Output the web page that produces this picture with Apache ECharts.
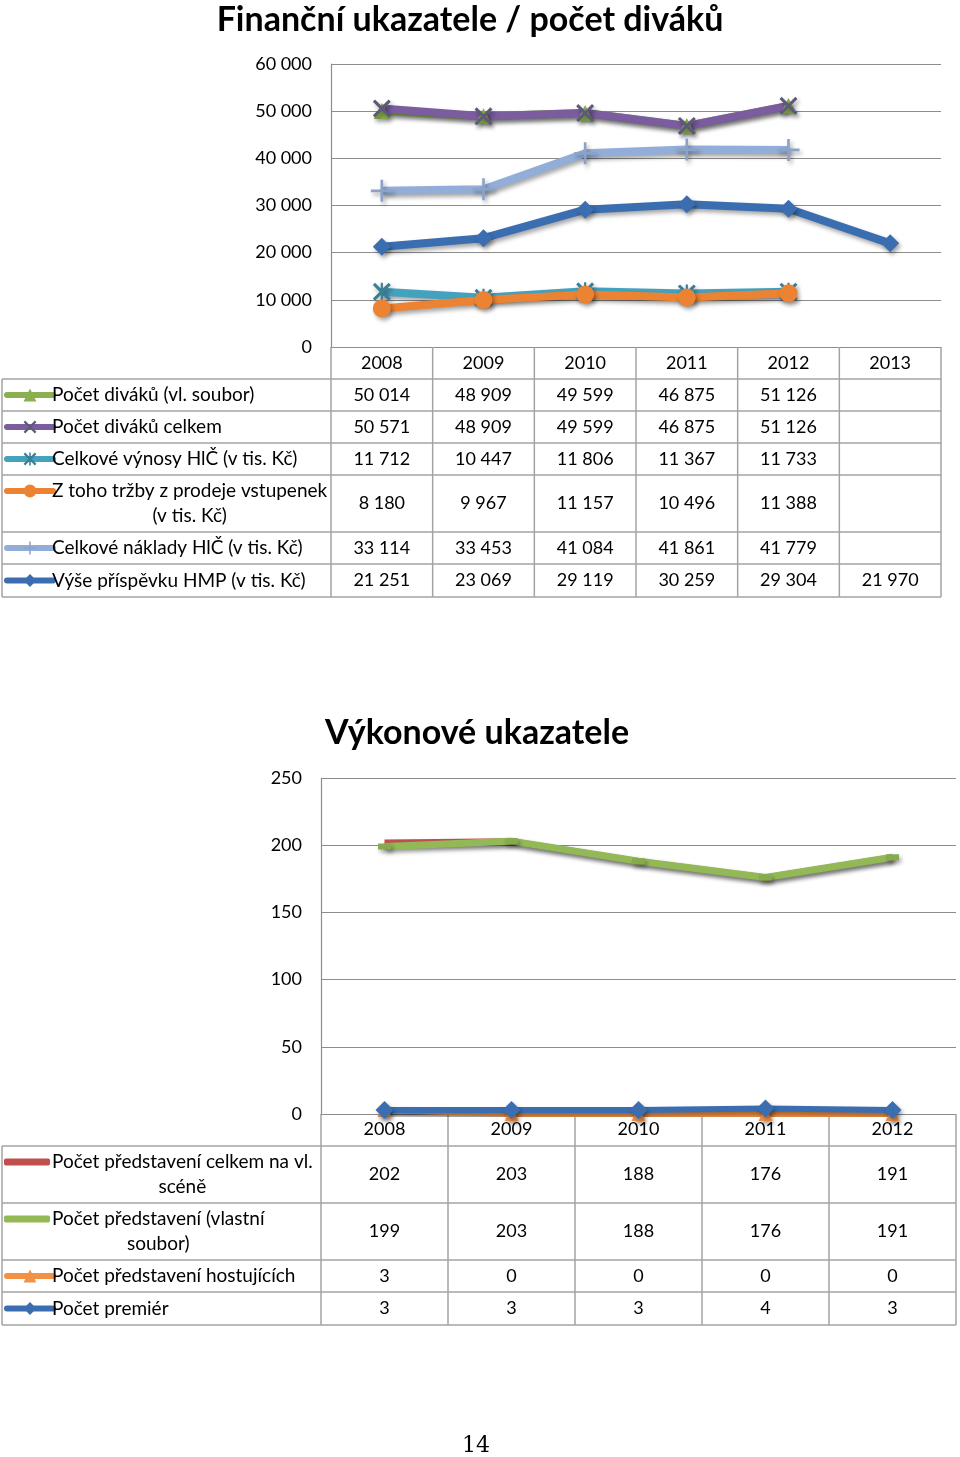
<!DOCTYPE html>
<html><head><meta charset="utf-8">
<script src="https://cdn.jsdelivr.net/npm/echarts@6/dist/echarts.min.js"></script>
<style>html,body{margin:0;padding:0;background:#fff}#c{width:960px;height:1457px}</style>
</head><body><div id="c"></div>
<script>
// ---------- DATA ----------
const years1 = ['2008','2009','2010','2011','2012','2013'];
const divakuVlSoubor = [50014, 48909, 49599, 46875, 51126, null];
const divakuCelkem   = [50571, 48909, 49599, 46875, 51126, null];
const vynosyHLC      = [11712, 10447, 11806, 11367, 11733, null];
const trzbyVstupenky = [8180, 9967, 11157, 10496, 11388, null];
const nakladyHLC     = [33114, 33453, 41084, 41861, 41779, null];
const prispevekHMP   = [21251, 23069, 29119, 30259, 29304, 21970];
const yTicks1 = [0, 10000, 20000, 30000, 40000, 50000, 60000];

const years2 = ['2008','2009','2010','2011','2012'];
const predstaveniCelkem = [202, 203, 188, 176, 191];
const predstaveniVlastni = [199, 203, 188, 176, 191];
const predstaveniHost = [3, 0, 0, 0, 0];
const premiery = [3, 3, 3, 4, 3];
const yTicks2 = [0, 50, 100, 150, 200, 250];

// ---------- LAYOUT / STYLE ----------
const FONT = 'Lato';
const LABEL_FONT = '19px ' + FONT;
const G1 = {left: 331, top: 64, width: 610, height: 283};
const G2 = {left: 321, top: 778, width: 635, height: 336};
const BORDER = '#a3a3a3';

const fmt = v => v == null ? '' : String(v).replace(/\B(?=(\d{3})+(?!\d))/g, ' ');
const mctx = document.createElement('canvas').getContext('2d');
mctx.font = LABEL_FONT;
const textW = t => mctx.measureText(t).width;

const P_X = 'path://M0,1.2 L1.2,0 L5,3.8 L8.8,0 L10,1.2 L6.2,5 L10,8.8 L8.8,10 L5,6.2 L1.2,10 L0,8.8 L3.8,5 Z';
const P_STAR = 'path://M0,1.2 L1.2,0 L5,3.8 L8.8,0 L10,1.2 L6.2,5 L10,8.8 L8.8,10 L5,6.2 L1.2,10 L0,8.8 L3.8,5 Z M4.4,0 L5.6,0 L5.6,10 L4.4,10 Z';
const P_PLUS = 'path://M4.4,0 L5.6,0 L5.6,4.4 L10,4.4 L10,5.6 L5.6,5.6 L5.6,10 L4.4,10 L4.4,5.6 L0,5.6 L0,4.4 L4.4,4.4 Z';

const shadow = {shadowColor: 'rgba(0,0,0,0.35)', shadowBlur: 4, shadowOffsetX: 2, shadowOffsetY: 3};

const table1 = [
  {name: 'Počet diváků (vl. soubor)', lines: ['Počet diváků (vl. soubor)'], values: divakuVlSoubor, color: '#8AB04F', symbol: 'triangle', size: 16, h: 32},
  {name: 'Počet diváků celkem', lines: ['Počet diváků celkem'], values: divakuCelkem, color: '#7A5C9F', symbol: P_X, size: 18, h: 32, symColor: '#5d5a78'},
  {name: 'Celkové výnosy HlČ (v tis. Kč)', lines: ['Celkové výnosy HlČ (v tis. Kč)'], values: vynosyHLC, color: '#44A2BE', symbol: P_STAR, size: 18, h: 32, symColor: '#3b7f95'},
  {name: 'Z toho tržby z prodeje vstupenek (v tis. Kč)', lines: ['Z toho tržby z prodeje vstupenek', '(v tis. Kč)'], values: trzbyVstupenky, color: '#EC8332', symbol: 'circle', size: 18, h: 57},
  {name: 'Celkové náklady HlČ (v tis. Kč)', lines: ['Celkové náklady HlČ (v tis. Kč)'], values: nakladyHLC, color: '#92AED8', symbol: P_PLUS, size: 22, h: 32, symColor: '#8da2c8'},
  {name: 'Výše příspěvku HMP (v tis. Kč)', lines: ['Výše příspěvku HMP (v tis. Kč)'], values: prispevekHMP, color: '#3B6EB0', symbol: 'diamond', size: 18, h: 33}
];
const table2 = [
  {name: 'Počet představení celkem na vl. scéně', lines: ['Počet představení celkem na vl.', 'scéně'], values: predstaveniCelkem, color: '#C0504D', symbol: 'none', size: 0, h: 57, lw: 6},
  {name: 'Počet představení (vlastní soubor)', lines: ['Počet představení (vlastní', 'soubor)'], values: predstaveniVlastni, color: '#93B957', symbol: 'rect', size: [13, 6], h: 57, lw: 7, symColor: '#86aa4c'},
  {name: 'Počet představení hostujících', lines: ['Počet představení hostujících'], values: predstaveniHost, color: '#F39145', symbol: 'triangle', size: 14, h: 32, lw: 6},
  {name: 'Počet premiér', lines: ['Počet premiér'], values: premiery, color: '#3B6EB0', symbol: 'diamond', size: 18, h: 33, lw: 6}
];

function mkSeries(rows, idx, lwDef) {
  return rows.map(r => ({
    type: 'line', name: r.name, xAxisIndex: idx, yAxisIndex: idx,
    data: r.values, symbol: r.symbol, symbolSize: r.size, showSymbol: r.symbol !== 'none',
    connectNulls: false, z: 3,
    lineStyle: Object.assign({color: r.color, width: r.lw || lwDef}, shadow),
    itemStyle: Object.assign({color: r.symColor || r.color}, shadow),
    emphasis: {disabled: true}, animation: false
  }));
}

const graphics = [];
const legends = [];
function buildTable(rows, G, cats, headerTop, leftX) {
  const n = cats.length;
  const colX = i => G.left + G.width * i / n;
  let y = headerTop + 32;
  const ys = [y];
  rows.forEach(r => { y += r.h; ys.push(y); });
  const bottom = ys[ys.length - 1];
  ys.forEach(yy => graphics.push({type: 'line', shape: {x1: leftX, y1: yy, x2: G.left + G.width, y2: yy}, style: {stroke: BORDER, lineWidth: 1.5}, z: 1}));
  graphics.push({type: 'line', shape: {x1: leftX, y1: ys[0], x2: leftX, y2: bottom}, style: {stroke: BORDER, lineWidth: 1.5}, z: 1});
  for (let i = 0; i <= n; i++) {
    graphics.push({type: 'line', shape: {x1: colX(i), y1: headerTop, x2: colX(i), y2: bottom}, style: {stroke: BORDER, lineWidth: 1.5}, z: 1});
  }
  rows.forEach((r, k) => {
    const top = ys[k], h = r.h;
    const lineY = r.lines.length > 1 ? top + 16 : top + h / 2;
    if (r.lines.length > 1) {
      const cx = 52 + textW(r.lines[0]) / 2;
      r.lines.forEach((t, j) => graphics.push({type: 'text', x: cx, y: top + 16 + j * 25, style: {text: t, font: LABEL_FONT, fill: '#000', textAlign: 'center', textVerticalAlign: 'middle'}, z: 5}));
    } else {
      graphics.push({type: 'text', x: 52, y: lineY, style: {text: r.lines[0], font: LABEL_FONT, fill: '#000', textAlign: 'left', textVerticalAlign: 'middle'}, z: 5});
    }
    r.values.forEach((v, i) => {
      graphics.push({type: 'text', x: (colX(i) + colX(i + 1)) / 2, y: top + h / 2, style: {text: fmt(v), font: '18px ' + FONT, fill: '#000', textAlign: 'center', textVerticalAlign: 'middle'}, z: 5});
    });
    const lg = {data: [r.name], left: 4, top: lineY - 8, itemWidth: 46, itemHeight: 16, padding: 0, selectedMode: false,
      formatter: () => '', textStyle: {fontSize: 1},
      lineStyle: {width: 6, cap: 'round', shadowBlur: 0, shadowOffsetX: 0, shadowOffsetY: 0},
      itemStyle: {shadowBlur: 0, shadowOffsetX: 0, shadowOffsetY: 0}};
    if (r.symbol === 'none' || r.symbol === 'rect') {
      lg.icon = 'roundRect'; lg.itemHeight = 7; lg.top = lineY - 3.5;
      lg.itemStyle = {color: r.color, shadowBlur: 0, shadowOffsetX: 0, shadowOffsetY: 0};
    }
    legends.push(lg);
  });
}
buildTable(table1, G1, years1, G1.top + G1.height, 2);
buildTable(table2, G2, years2, G2.top + G2.height, 2);

graphics.push({type: 'text', x: 476, y: 1446, style: {text: '14', font: '22px "DejaVu Serif"', fill: '#000', textAlign: 'center', textVerticalAlign: 'middle'}});

const axisBase = {
  axisLine: {show: true, lineStyle: {color: '#8c8c8c', width: 1.2}},
  axisTick: {show: false},
  axisLabel: {color: '#000', fontSize: 18, fontFamily: FONT}
};

const option = {
  animation: false,
  backgroundColor: '#fff',
  title: [
    {text: 'Finanční ukazatele / počet diváků', left: 465, top: -2, textAlign: 'center',
      textStyle: {fontFamily: FONT, fontWeight: 'bold', fontSize: 34, color: '#000'}},
    {text: 'Výkonové ukazatele', left: 472, top: 711, textAlign: 'center',
      textStyle: {fontFamily: FONT, fontWeight: 'bold', fontSize: 34, color: '#000'}}
  ],
  grid: [
    Object.assign({containLabel: false}, G1),
    Object.assign({containLabel: false}, G2)
  ],
  xAxis: [
    Object.assign({}, axisBase, {type: 'category', gridIndex: 0, data: years1, boundaryGap: true,
      axisLabel: Object.assign({}, axisBase.axisLabel, {margin: 7, interval: 0})}),
    Object.assign({}, axisBase, {type: 'category', gridIndex: 1, data: years2, boundaryGap: true,
      axisLabel: Object.assign({}, axisBase.axisLabel, {margin: 6, interval: 0})})
  ],
  yAxis: [
    Object.assign({}, axisBase, {type: 'value', gridIndex: 0, min: yTicks1[0], max: yTicks1[yTicks1.length - 1], interval: yTicks1[1] - yTicks1[0],
      splitLine: {show: true, lineStyle: {color: '#8c8c8c', width: 1.2}},
      axisLabel: Object.assign({}, axisBase.axisLabel, {margin: 19, formatter: fmt})}),
    Object.assign({}, axisBase, {type: 'value', gridIndex: 1, min: yTicks2[0], max: yTicks2[yTicks2.length - 1], interval: yTicks2[1] - yTicks2[0],
      splitLine: {show: true, lineStyle: {color: '#8c8c8c', width: 1.2}},
      axisLabel: Object.assign({}, axisBase.axisLabel, {margin: 19, formatter: fmt})})
  ],
  legend: legends,
  series: mkSeries(table1, 0, 8).concat(mkSeries(table2, 1, 6)),
  graphic: graphics
};

const chart = echarts.init(document.getElementById('c'), null, {width: 960, height: 1457});
chart.setOption(option);
</script>
</body></html>
